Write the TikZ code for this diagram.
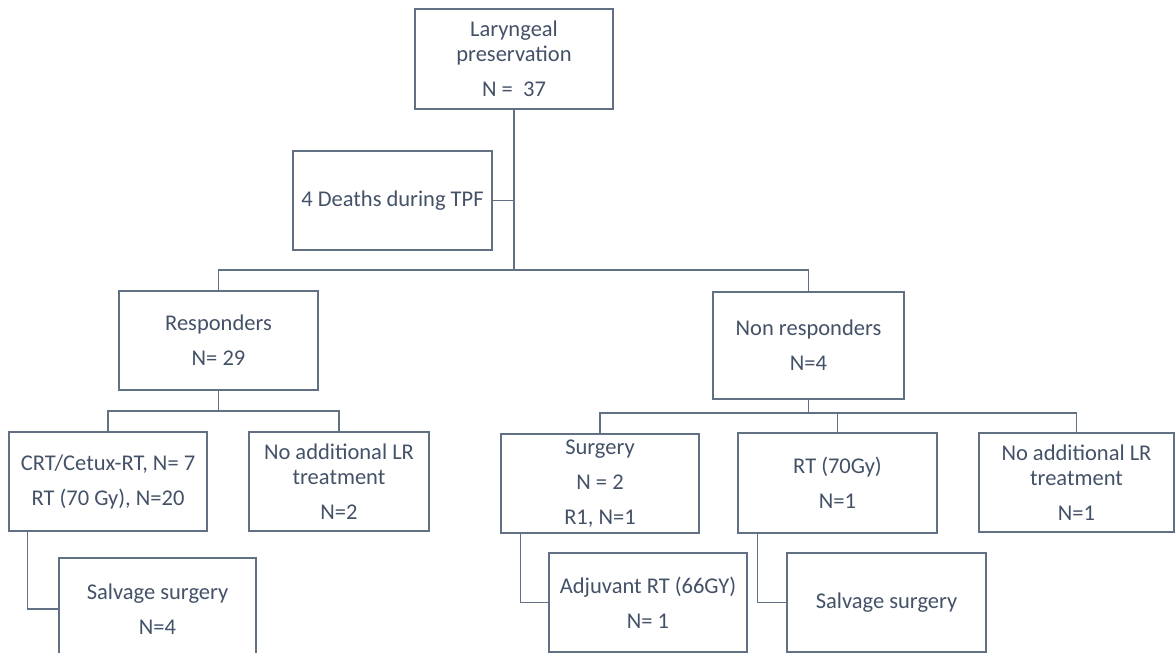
\documentclass[tikz,border=0pt]{standalone}
\usepackage{fontspec}
\setmainfont{Carlito}
\usetikzlibrary{calc}
\definecolor{linec}{RGB}{98,112,132}
\definecolor{textc}{RGB}{68,82,104}
\tikzset{
  box/.style={draw=linec, line width=1.3pt, text=textc, align=center, inner sep=0pt,
    font=\fontsize{22.5}{25}\selectfont},
  conn/.style={draw=linec, line width=1.3pt},
}
\begin{document}
\begin{tikzpicture}[x=1pt,y=-1pt]
\clip (0,0) rectangle (1175,653);
\fill[white] (0,0) rectangle (1175,653);
% boxes
\node[box, minimum width=198, minimum height=100] (top) at (514,59) {Laryngeal\\preservation\\[10pt]N =\ \ 37};
\node[box, minimum width=199, minimum height=99] (deaths) at (392.5,200.5) {4 Deaths during TPF};
\node[box, minimum width=199, minimum height=99] (resp) at (218.5,340.5) {Responders\\[10pt]N= 29};
\node[box, minimum width=191, minimum height=107] (nonresp) at (808.5,345.5) {Non responders\\[10pt]N=4};
\node[box, minimum width=198, minimum height=99] (crt) at (108,481.5) {CRT/Cetux-RT, N= 7\\[10pt]RT (70 Gy), N=20};
\node[box, minimum width=180, minimum height=99] (noaddL) at (339,481.5) {No additional LR\\treatment\\[10pt]N=2};
\node[box, minimum width=197, minimum height=102] (salvL) at (157.5,609) {Salvage surgery\\[10pt]N=4};
\node[box, minimum width=198, minimum height=99] (surg) at (600,483.5) {Surgery\\[10pt]N = 2\\[10pt]R1, N=1};
\node[box, minimum width=199, minimum height=100] (rt) at (837.5,483) {RT (70Gy)\\[10pt]N=1};
\node[box, minimum width=195, minimum height=99] (noaddR) at (1076.5,482.5) {No additional LR\\treatment\\[10pt]N=1};
\node[box, minimum width=198, minimum height=99] (adj) at (648,602.5) {Adjuvant RT (66GY)\\[10pt]N= 1};
\node[box, minimum width=199, minimum height=99] (salvR) at (886.5,602.5) {Salvage surgery};
% hubs
\coordinate (hub) at (514,270);
\coordinate (rhub) at (218.5,411);
\coordinate (nhub) at (808.5,413);
% connectors
\draw[conn] (top.south) -- (hub);
\draw[conn] (deaths.east) -- (deaths.east -| top.south);
\draw[conn] (resp.north) |- (hub) -| (nonresp.north);
\draw[conn] (resp.south) -- (rhub);
\draw[conn] (crt.north) |- (rhub) -| (noaddL.north);
\draw[conn] (nonresp.south) -- (nhub);
\draw[conn] (surg.north) |- (nhub) -| (noaddR.north);
\draw[conn] (rt.north) -- (rt.north |- nhub);
\draw[conn] ($(crt.south west)+(19,0)$) |- (salvL.west);
\draw[conn] ($(surg.south west)+(20,0)$) |- (adj.west);
\draw[conn] ($(rt.south west)+(20,0)$) |- (salvR.west);
\end{tikzpicture}
\end{document}
